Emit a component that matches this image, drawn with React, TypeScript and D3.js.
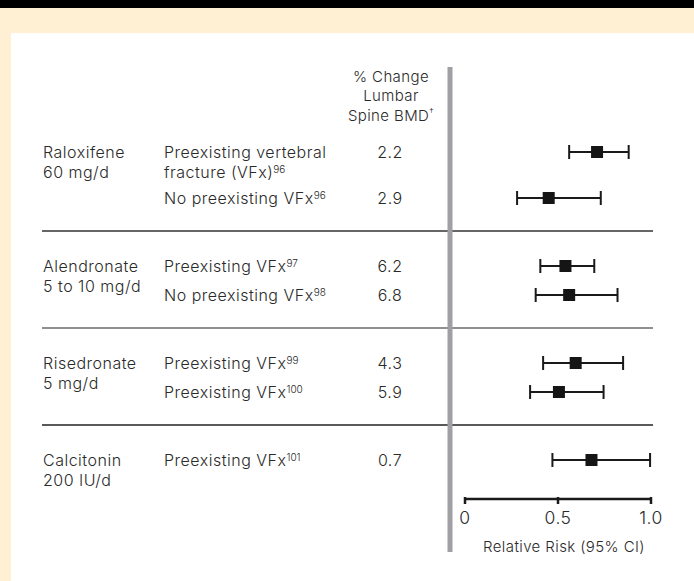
import React, { useRef, useEffect } from "react";
import { select, scaleLinear } from "d3";

// drug groups
const drugNames = ["Raloxifene", "Alendronate", "Risedronate", "Calcitonin"];
const drugDoses = ["60 mg/d", "5 to 10 mg/d", "5 mg/d", "200 IU/d"];

// trial rows (group index, label lines, reference number)
const rowGroup = [0, 0, 1, 1, 2, 2, 3];
const rowLabels = [
  ["Preexisting vertebral", "fracture (VFx)"],
  ["No preexisting VFx"],
  ["Preexisting VFx"],
  ["No preexisting VFx"],
  ["Preexisting VFx"],
  ["Preexisting VFx"],
  ["Preexisting VFx"],
];
const rowRefs = ["96", "96", "97", "98", "99", "100", "101"];
const bmdChange = ["2.2", "2.9", "6.2", "6.8", "4.3", "5.9", "0.7"];

// relative risk and 95% CI
const rrValue = [0.71, 0.45, 0.54, 0.56, 0.595, 0.505, 0.68];
const rrLow = [0.56, 0.28, 0.405, 0.38, 0.42, 0.35, 0.47];
const rrHigh = [0.88, 0.73, 0.695, 0.82, 0.85, 0.745, 0.995];

const axisTicks = [0, 0.5, 1.0];
const axisTickLabels = ["0", "0.5", "1.0"];
const headerLines = ["% Change", "Lumbar", "Spine BMD"];

const FONT = "Inter, Lato, sans-serif";
const INK = "#2a2a2a";
const SEP_COLORS = ["#333", "#6a6a6a", "#222"];

function App() {
  const svgRef = useRef(null);

  useEffect(() => {
    const svg = select(svgRef.current);
    const W = 694;
    const H = 581;

    // background
    svg.selectAll(".bg").data([0]).join("rect").attr("class", "bg")
      .attr("width", W).attr("height", H).attr("fill", "#fff");
    svg.selectAll(".band").data([0]).join("rect").attr("class", "band")
      .attr("x", 0).attr("y", 8).attr("width", W).attr("height", 25).attr("fill", "#fff0d4");
    svg.selectAll(".strip").data([0]).join("rect").attr("class", "strip")
      .attr("x", 0).attr("y", 8).attr("width", 11).attr("height", H - 8).attr("fill", "#fff0d4");
    svg.selectAll(".top").data([0]).join("rect").attr("class", "top")
      .attr("x", 0).attr("y", 0).attr("width", W).attr("height", 8).attr("fill", "#000");

    // row layout
    const rowY = [];
    const sepY = [];
    let y = 152;
    rowGroup.forEach((g, i) => {
      if (i > 0) {
        if (g !== rowGroup[i - 1]) {
          sepY.push(rowY[i - 1] + 33);
          y = rowY[i - 1] + 33 + 35;
        } else {
          y = rowY[i - 1] + (rowLabels[i - 1].length > 1 ? 46 : 29);
        }
      }
      rowY.push(y);
    });
    const axisY = 499;

    const x = scaleLinear().domain([0, 1]).range([465, 651]);

    const body = sel => sel
      .attr("font-family", FONT).attr("font-size", 16).attr("font-weight", 300)
      .attr("letter-spacing", 0.5).attr("fill", INK);

    // separators
    svg.selectAll(".sep").data(sepY).join("line").attr("class", "sep")
      .attr("x1", 42).attr("x2", 653)
      .attr("y1", d => d).attr("y2", d => d)
      .attr("stroke", (d, i) => SEP_COLORS[i]).attr("stroke-width", 1.5);

    // gray divider
    svg.selectAll(".divider").data([0]).join("rect").attr("class", "divider")
      .attr("x", 447.5).attr("y", 67).attr("width", 5).attr("height", 485)
      .attr("fill", "#a0a0a4");

    // header
    svg.selectAll(".hdr").data(headerLines).join("text").attr("class", "hdr")
      .attr("x", 391).attr("y", (d, i) => 81.5 + i * 19.5)
      .attr("text-anchor", "middle")
      .attr("font-family", FONT).attr("font-size", 15).attr("font-weight", 300)
      .attr("letter-spacing", 0.4).attr("fill", INK)
      .each(function (d, i) {
        const t = select(this);
        t.selectAll("tspan").remove();
        t.text(null);
        t.append("tspan").text(d);
        if (i === headerLines.length - 1) {
          t.append("tspan").attr("font-size", 9).attr("dy", -6).text("†");
        }
      });

    // drug names
    const firstRowOfGroup = drugNames.map((d, g) => rowY[rowGroup.indexOf(g)]);
    svg.selectAll(".drug").data(drugNames).join("text").attr("class", "drug")
      .attr("x", 43).attr("y", (d, g) => firstRowOfGroup[g] + 5.5)
      .call(body)
      .text(d => d);
    svg.selectAll(".dose").data(drugDoses).join("text").attr("class", "dose")
      .attr("x", 43).attr("y", (d, g) => firstRowOfGroup[g] + 25.5)
      .call(body)
      .text(d => d);

    // row labels with superscript refs
    svg.selectAll(".rowlab").data(rowLabels).join("text").attr("class", "rowlab")
      .attr("x", 164).attr("y", (d, i) => rowY[i] + 5.5)
      .call(body)
      .each(function (lines, i) {
        const t = select(this);
        t.selectAll("tspan").remove();
        t.text(null);
        lines.forEach((ln, j) => {
          t.append("tspan").attr("x", 164).attr("dy", j === 0 ? 0 : 20).text(ln);
        });
        t.append("tspan").attr("font-size", 10).attr("letter-spacing", 0).attr("dy", -5).text(rowRefs[i]);
      });

    // BMD values
    svg.selectAll(".bmd").data(bmdChange).join("text").attr("class", "bmd")
      .attr("x", 390).attr("y", (d, i) => rowY[i] + 5.5)
      .attr("text-anchor", "middle")
      .call(body)
      .text(d => d);

    // CI lines
    svg.selectAll(".ci").data(rrValue).join("line").attr("class", "ci")
      .attr("x1", (d, i) => x(rrLow[i])).attr("x2", (d, i) => x(rrHigh[i]))
      .attr("y1", (d, i) => rowY[i]).attr("y2", (d, i) => rowY[i])
      .attr("stroke", "#1a1a1a").attr("stroke-width", 2);
    const caps = rrValue.flatMap((d, i) => [
      { v: rrLow[i], y: rowY[i] },
      { v: rrHigh[i], y: rowY[i] },
    ]);
    svg.selectAll(".cap").data(caps).join("line").attr("class", "cap")
      .attr("x1", d => x(d.v)).attr("x2", d => x(d.v))
      .attr("y1", d => d.y - 7).attr("y2", d => d.y + 7)
      .attr("stroke", "#1a1a1a").attr("stroke-width", 2);
    svg.selectAll(".pt").data(rrValue).join("rect").attr("class", "pt")
      .attr("x", d => x(d) - 6).attr("y", (d, i) => rowY[i] - 6)
      .attr("width", 12).attr("height", 12)
      .attr("fill", "#151515");

    // axis
    svg.selectAll(".axisline").data([0]).join("line").attr("class", "axisline")
      .attr("x1", x(0)).attr("x2", x(1))
      .attr("y1", axisY).attr("y2", axisY)
      .attr("stroke", "#1a1a1a").attr("stroke-width", 2.5);
    svg.selectAll(".tick").data(axisTicks).join("line").attr("class", "tick")
      .attr("x1", d => x(d)).attr("x2", d => x(d))
      .attr("y1", axisY - 2).attr("y2", axisY + 5)
      .attr("stroke", "#1a1a1a").attr("stroke-width", 2.5);
    svg.selectAll(".ticklab").data(axisTicks).join("text").attr("class", "ticklab")
      .attr("x", d => x(d)).attr("y", axisY + 25)
      .attr("text-anchor", "middle")
      .attr("font-family", FONT).attr("font-size", 17.5).attr("font-weight", 300)
      .attr("letter-spacing", 0.5).attr("fill", INK)
      .text((d, i) => axisTickLabels[i]);
    svg.selectAll(".axistitle").data(["Relative Risk (95% CI)"]).join("text").attr("class", "axistitle")
      .attr("x", 564).attr("y", axisY + 53)
      .attr("text-anchor", "middle")
      .attr("font-family", FONT).attr("font-size", 15).attr("font-weight", 300)
      .attr("letter-spacing", 0.4).attr("fill", INK)
      .text(d => d);
  }, []);

  return (
    <svg
      ref={svgRef}
      width={694}
      height={581}
      style={{ position: "absolute", left: 0, top: 0 }}
    />
  );
}

export default App;
